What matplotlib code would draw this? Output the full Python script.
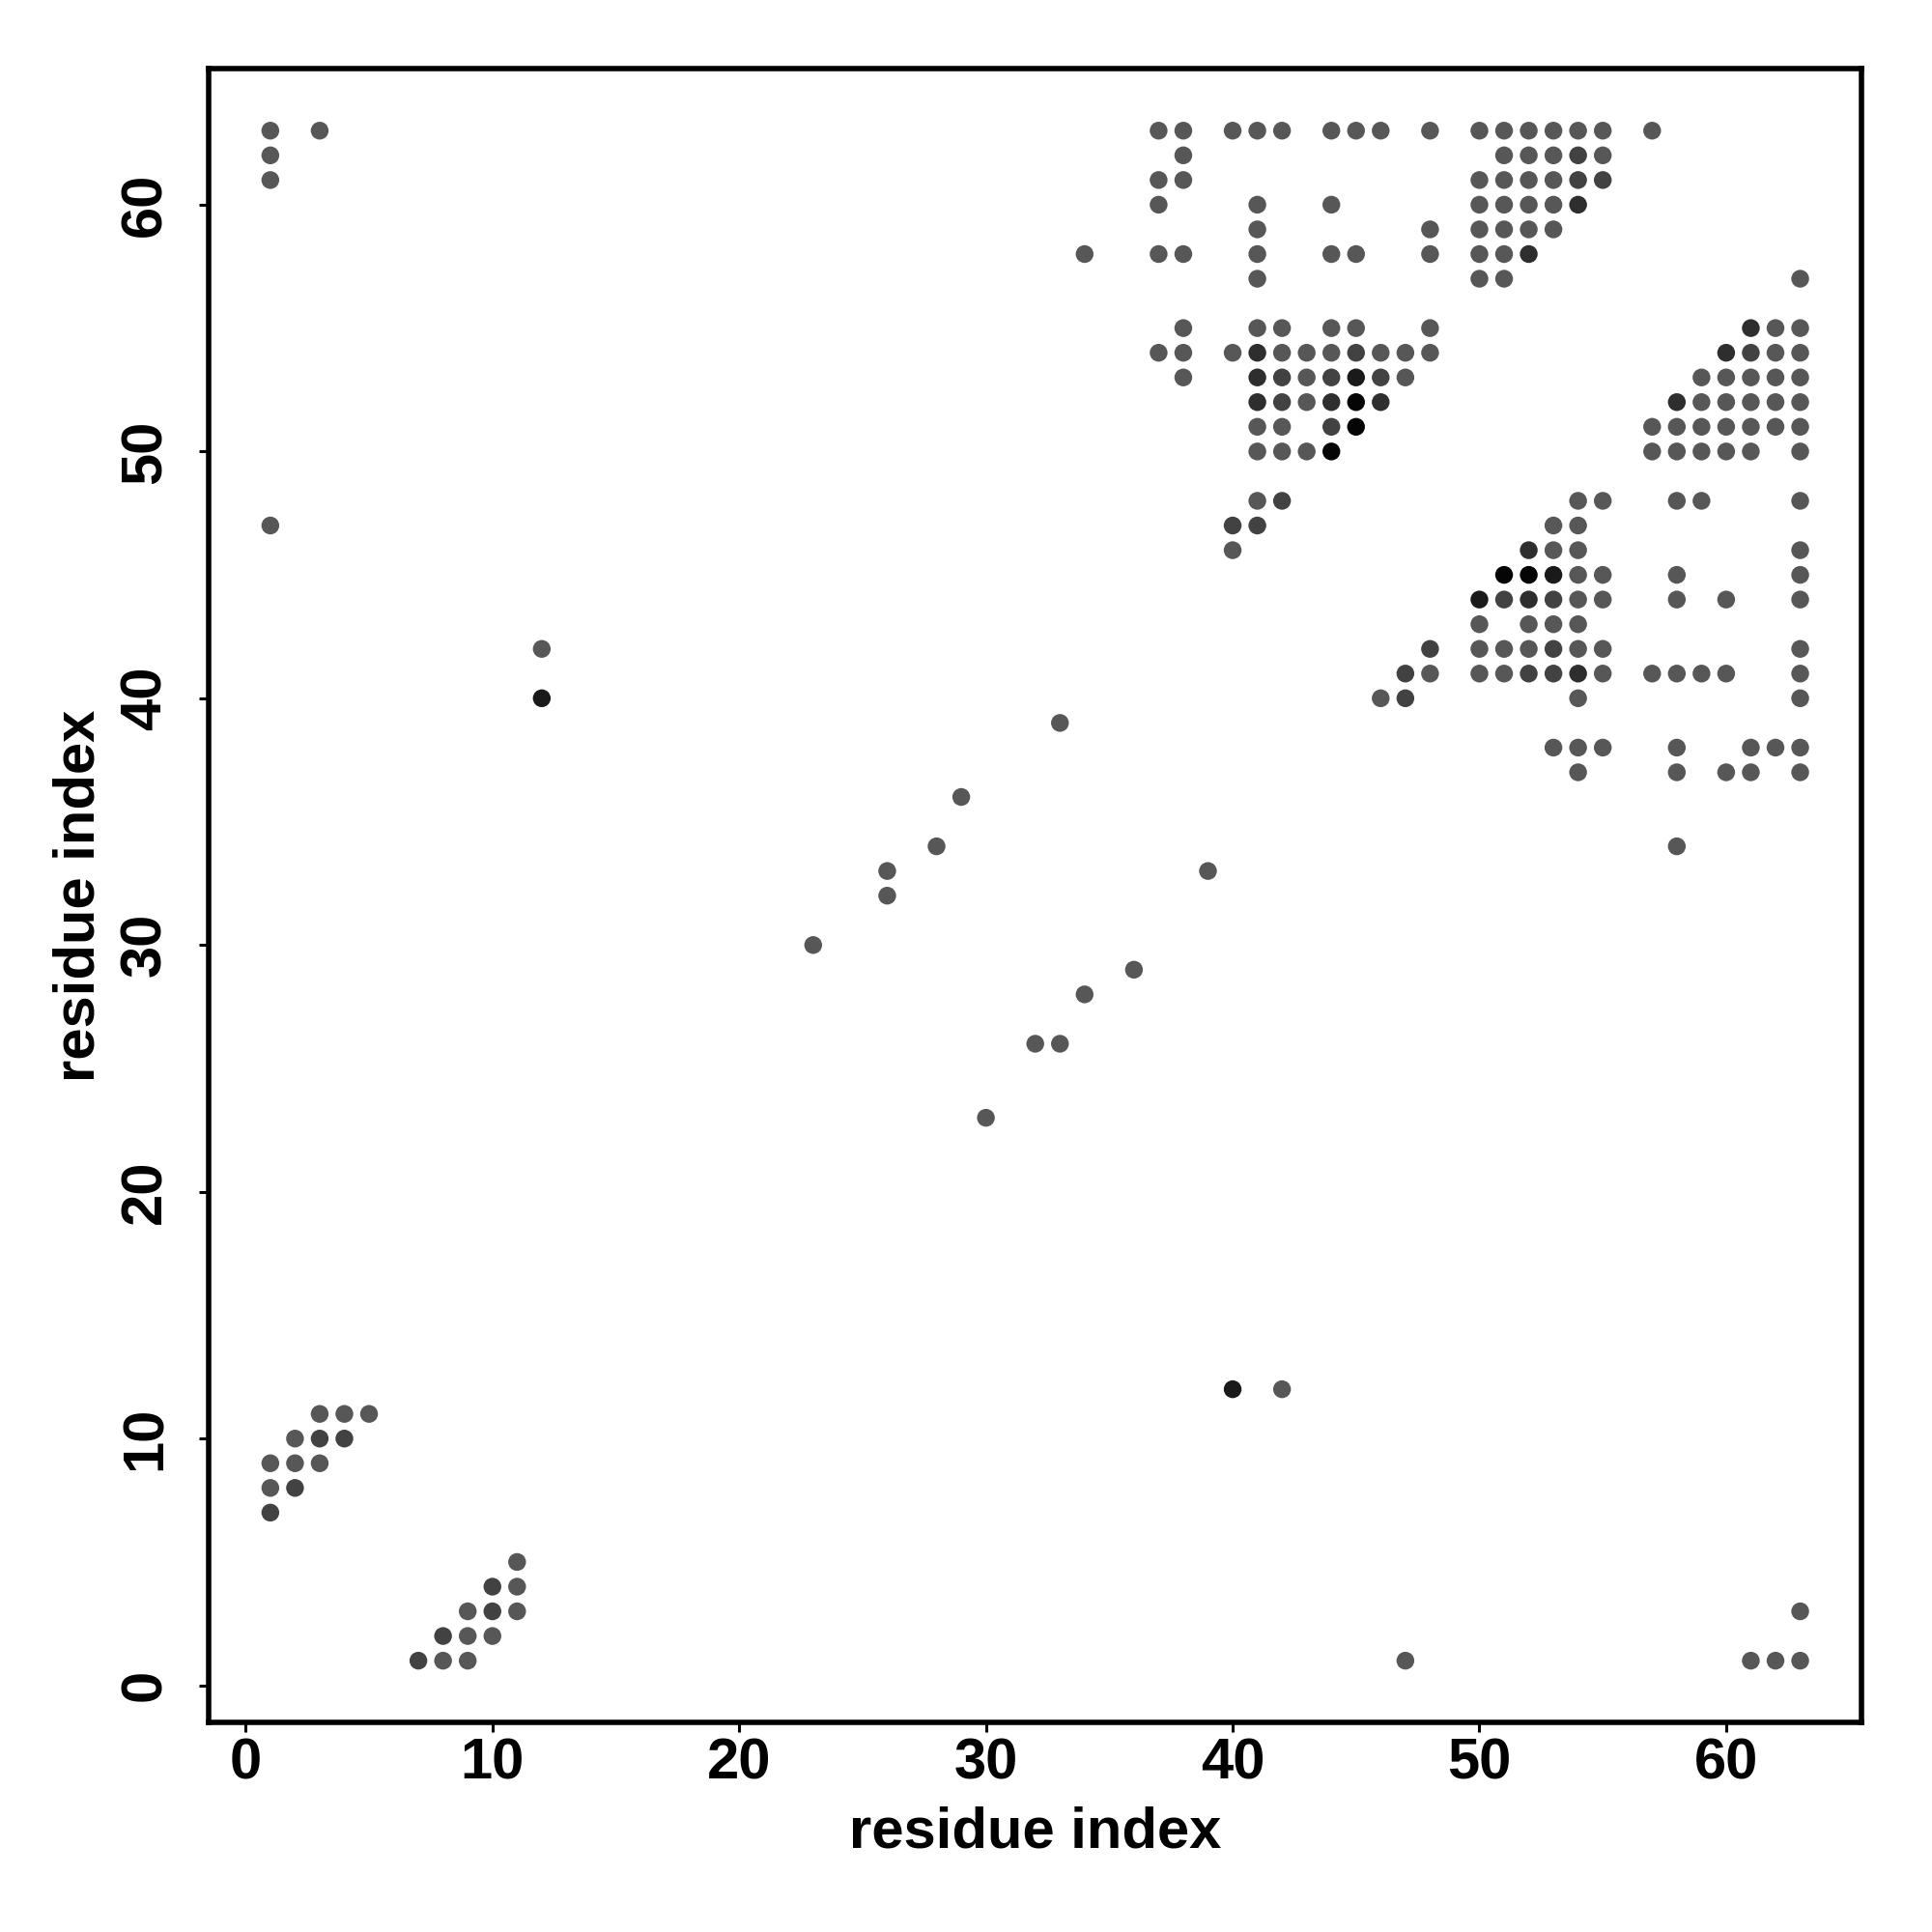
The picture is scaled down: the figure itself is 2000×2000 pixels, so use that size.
import matplotlib
matplotlib.use('Agg')
import matplotlib.pyplot as plt

plt.rcParams['font.family'] = ['Liberation Sans', 'DejaVu Sans']

# residue contacts: y residue -> list of x residues
contacts = {
    63: [1, 3, 37, 38, 40, 41, 42, 44, 45, 46, 48, 50, 51, 52, 53, 54, 55, 57],
    62: [1, 38, 51, 52, 53, 54, 55],
    61: [1, 37, 38, 50, 51, 52, 53, 54, 55],
    60: [37, 41, 44, 50, 51, 52, 53, 54],
    59: [41, 48, 50, 51, 52, 53],
    58: [34, 37, 38, 41, 44, 45, 48, 50, 51, 52],
    57: [41, 50, 51, 63],
    55: [38, 41, 42, 44, 45, 48, 61, 62, 63],
    54: [37, 38, 40, 41, 42, 43, 44, 45, 46, 47, 48, 60, 61, 62, 63],
    53: [38, 41, 42, 43, 44, 45, 46, 47, 59, 60, 61, 62, 63],
    52: [41, 42, 43, 44, 45, 46, 58, 59, 60, 61, 62, 63],
    51: [41, 42, 44, 45, 57, 58, 59, 60, 61, 62, 63],
    50: [41, 42, 43, 44, 57, 58, 59, 60, 61, 63],
    48: [41, 42, 54, 55, 58, 59, 63],
    47: [1, 40, 41, 53, 54],
    46: [40, 52, 53, 54, 63],
    45: [51, 52, 53, 54, 55, 58, 63],
    44: [50, 51, 52, 53, 54, 55, 58, 60, 63],
    43: [50, 52, 53, 54],
    42: [12, 48, 50, 51, 52, 53, 54, 55, 63],
    41: [47, 48, 50, 51, 52, 53, 54, 55, 57, 58, 59, 60, 63],
    40: [12, 46, 47, 54, 63],
    39: [33],
    38: [53, 54, 55, 58, 61, 62, 63],
    37: [54, 58, 60, 61, 63],
    36: [29],
    34: [28, 58],
    33: [26, 39],
    32: [26],
    30: [23],
    29: [36],
    28: [34],
    26: [32, 33],
    23: [30],
    12: [40, 42],
    11: [3, 4, 5],
    10: [2, 3, 4],
    9: [1, 2, 3],
    8: [1, 2],
    7: [1],
    5: [11],
    4: [10, 11],
    3: [9, 10, 11, 63],
    2: [8, 9, 10],
    1: [7, 8, 9, 47, 61, 62, 63],
}

# contact frequency (1 = default), higher = darker dot
freq = {
    (41, 54): 3, (45, 54): 2,
    (41, 53): 3, (42, 53): 2, (44, 53): 2, (45, 53): 4, (46, 53): 2,
    (41, 52): 3, (42, 52): 2, (44, 52): 3, (45, 52): 5, (46, 52): 3,
    (44, 51): 2, (45, 51): 5, (44, 50): 5,
    (54, 62): 2, (54, 61): 2, (55, 61): 2, (54, 60): 3, (52, 58): 3,
    (61, 55): 3, (60, 54): 3, (61, 54): 2, (58, 52): 3,
    (42, 48): 2, (40, 47): 2, (41, 47): 2, (51, 45): 5, (50, 44): 4,
    (48, 42): 2, (47, 41): 2, (47, 40): 2,
    (52, 46): 3, (52, 45): 5, (53, 45): 4, (52, 44): 3, (53, 44): 2,
    (51, 44): 2, (53, 42): 2, (52, 41): 2, (53, 41): 2, (54, 41): 3,
    (12, 40): 4, (40, 12): 4,
    (3, 10): 2, (4, 10): 2, (2, 8): 2, (1, 7): 2,
    (10, 4): 2, (10, 3): 2, (8, 2): 2, (7, 1): 2,
}

xs, ys, cols = [], [], []
for yv, row in contacts.items():
    for xv in row:
        w = freq.get((xv, yv), 1)
        g = max(0.02, 0.34 - 0.08 * (w - 1))
        xs.append(xv)
        ys.append(yv)
        cols.append((g, g, g))

fig = plt.figure(figsize=(10, 10), dpi=200)
ax = fig.add_axes([0.108, 0.1085, 0.8557, 0.8558])
ax.scatter(xs, ys, s=44, c=cols, edgecolors='none')

ax.set_xlim(-1.5, 65.5)
ax.set_ylim(-1.5, 65.5)
ax.set_xticks([0, 10, 20, 30, 40, 50, 60])
ax.set_yticks([0, 10, 20, 30, 40, 50, 60])
for s in ax.spines.values():
    s.set_linewidth(2.0)
ax.tick_params(axis='both', length=3.5, width=1.1, labelsize=21.5)
ax.tick_params(axis='x', pad=2)
ax.tick_params(axis='y', pad=10, labelrotation=90)
for lab in ax.get_xticklabels() + ax.get_yticklabels():
    lab.set_fontweight('bold')
for lab in ax.get_yticklabels():
    lab.set_va('center')

ax.set_xlabel('residue index', fontsize=21.5, fontweight='bold', labelpad=6)
ax.set_ylabel('residue index', fontsize=21.5, fontweight='bold', labelpad=5)

fig.savefig('out.png', dpi=200, facecolor='white')
